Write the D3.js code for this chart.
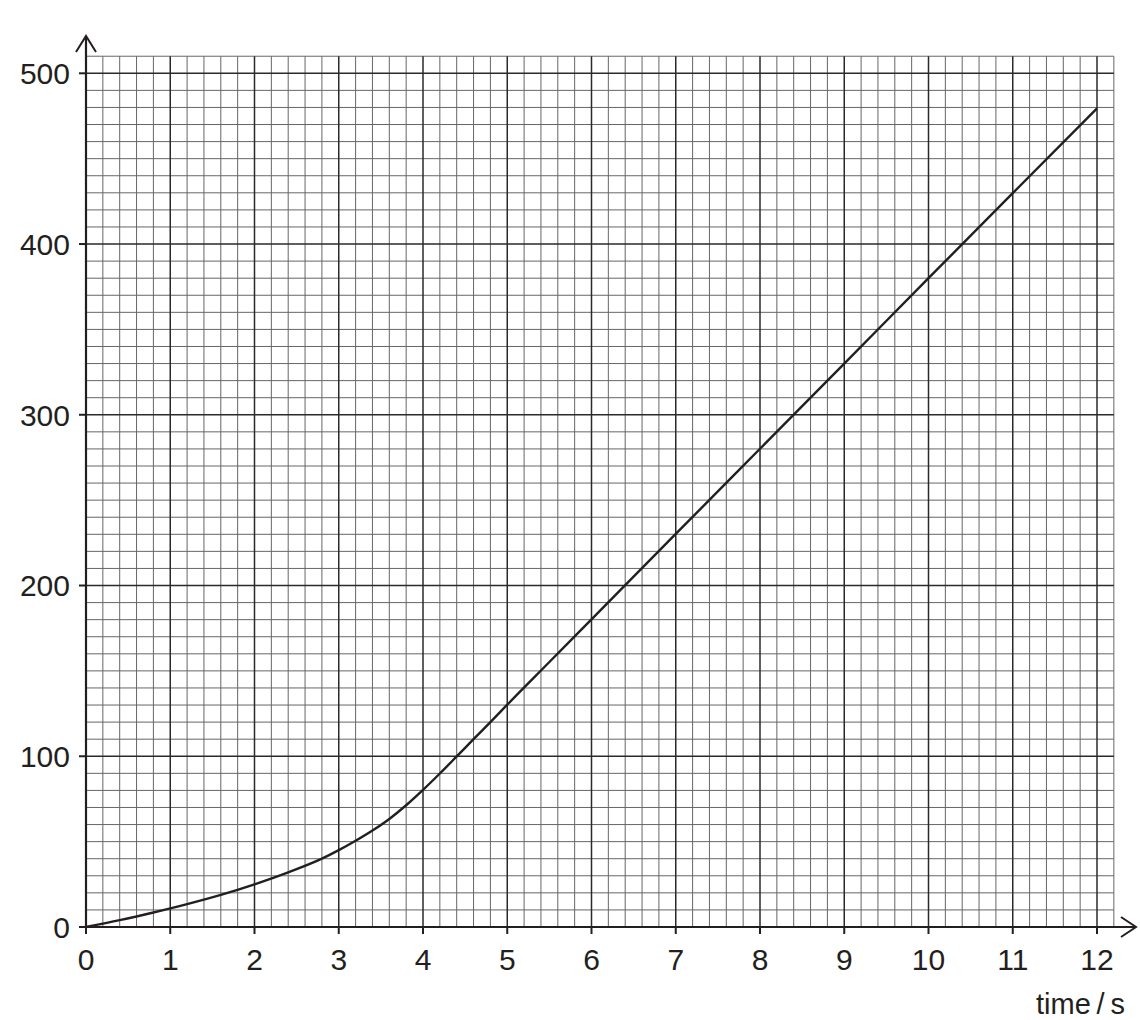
<!DOCTYPE html>
<html>
<head>
<meta charset="utf-8">
<script src="https://cdn.jsdelivr.net/npm/d3@7"></script>
<style>
  body { margin: 0; background: #fff; }
  text { font-family: "Liberation Sans", Arial, sans-serif; fill: #231f20; }
</style>
</head>
<body>
<div id="chart"></div>
<script>
// values
const times = [0, 0.4, 0.8, 1.2, 1.6, 2, 2.4, 2.8, 3, 3.2, 3.4, 3.6, 3.8, 4, 4.2, 4.4, 4.6, 4.8, 5, 5.5, 6, 7, 8, 9, 10, 11, 12];
const distances = [0, 4, 8.5, 13.4, 18.8, 25, 32, 40, 45, 50.5, 56.5, 63.3, 71.3, 80.3, 89.9, 99.9, 110, 120, 130.2, 155.2, 180.2, 230.2, 280.1, 330, 380, 429.8, 479.5];

const xTicks = [0, 1, 2, 3, 4, 5, 6, 7, 8, 9, 10, 11, 12];
const yTicks = [0, 100, 200, 300, 400, 500];
const xLabel = "time\u2009/\u2009s";

const width = 1140, height = 1020;

const x = d3.scaleLinear().domain([0, 12]).range([86, 1097]);
const y = d3.scaleLinear().domain([0, 500]).range([927, 73.3]);

const xMax = 12.2, yMax = 510;

const svg = d3.select("#chart").append("svg")
    .attr("width", width)
    .attr("height", height);

// minor grid: 0.2 s across, 10 units up
const minorX = d3.range(0, 62).map(i => i * 0.2).filter(v => Math.abs(v - Math.round(v)) > 1e-6 || v > 12.1);
const minorY = d3.range(0, 52).map(i => i * 10).filter(v => v % 100 !== 0 || v > 500);

const grid = svg.append("g");

grid.selectAll(".minor-x")
    .data(minorX)
    .enter().append("line")
    .attr("x1", d => x(d)).attr("x2", d => x(d))
    .attr("y1", y(0)).attr("y2", y(yMax))
    .style("stroke", "#666")
    .style("stroke-width", 1);

grid.selectAll(".minor-y")
    .data(minorY)
    .enter().append("line")
    .attr("x1", x(0)).attr("x2", x(xMax))
    .attr("y1", d => y(d)).attr("y2", d => y(d))
    .style("stroke", "#666")
    .style("stroke-width", 1);

// major grid lines
grid.selectAll(".major-x")
    .data(xTicks.slice(1))
    .enter().append("line")
    .attr("x1", d => x(d)).attr("x2", d => x(d))
    .attr("y1", y(0)).attr("y2", y(yMax))
    .style("stroke", "#2a2a2a")
    .style("stroke-width", 1.5);

grid.selectAll(".major-y")
    .data(yTicks.slice(1))
    .enter().append("line")
    .attr("x1", x(0)).attr("x2", x(xMax))
    .attr("y1", d => y(d)).attr("y2", d => y(d))
    .style("stroke", "#2a2a2a")
    .style("stroke-width", 1.5);

// the curve
const line = d3.line()
    .x((d, i) => x(times[i]))
    .y(d => y(d))
    .curve(d3.curveMonotoneX);

svg.append("path")
    .datum(distances)
    .attr("d", line)
    .style("fill", "none")
    .style("stroke", "#231f20")
    .style("stroke-width", 2.4);

// axes with arrows
const axisColor = "#231f20";
svg.append("line")
    .attr("x1", x(0) - 1).attr("x2", 1135)
    .attr("y1", y(0)).attr("y2", y(0))
    .style("stroke", axisColor).style("stroke-width", 2.2);
svg.append("path")
    .attr("d", `M1121,${y(0) - 10} L1136,${y(0)} L1121,${y(0) + 10}`)
    .style("fill", "none").style("stroke", axisColor).style("stroke-width", 2);

svg.append("line")
    .attr("x1", x(0)).attr("x2", x(0))
    .attr("y1", y(0) + 1).attr("y2", 37)
    .style("stroke", axisColor).style("stroke-width", 2.2);
svg.append("path")
    .attr("d", `M${x(0) - 10},52 L${x(0)},36 L${x(0) + 10},52`)
    .style("fill", "none").style("stroke", axisColor).style("stroke-width", 2);

// tick marks
svg.selectAll(".xtick")
    .data(xTicks)
    .enter().append("line")
    .attr("x1", d => x(d)).attr("x2", d => x(d))
    .attr("y1", y(0)).attr("y2", y(0) + 7)
    .style("stroke", axisColor).style("stroke-width", 2);

svg.selectAll(".ytick")
    .data(yTicks)
    .enter().append("line")
    .attr("x1", x(0) - 7).attr("x2", x(0))
    .attr("y1", d => y(d)).attr("y2", d => y(d))
    .style("stroke", axisColor).style("stroke-width", 2);

// tick labels
svg.selectAll(".xlabel")
    .data(xTicks)
    .enter().append("text")
    .attr("x", d => x(d))
    .attr("y", 970)
    .attr("text-anchor", "middle")
    .style("font-size", "30px")
    .text(d => d);

svg.selectAll(".ylabel")
    .data(yTicks)
    .enter().append("text")
    .attr("x", 70)
    .attr("y", d => y(d))
    .attr("dy", "0.36em")
    .attr("text-anchor", "end")
    .style("font-size", "30px")
    .text(d => d);

svg.append("text")
    .attr("x", 1125)
    .attr("y", 1014)
    .attr("text-anchor", "end")
    .style("font-size", "29px")
    .text(xLabel);
</script>
</body>
</html>
